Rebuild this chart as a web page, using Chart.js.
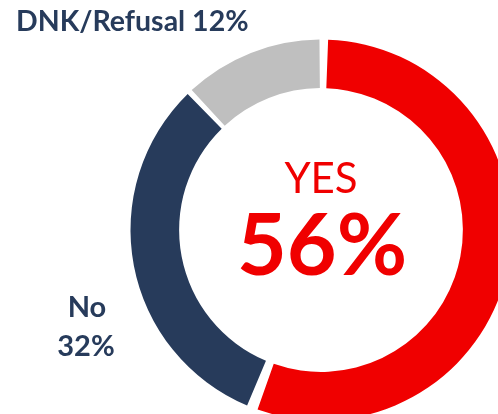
<!DOCTYPE html>
<html>
<head>
<meta charset="utf-8">
<script src="https://cdn.jsdelivr.net/npm/chart.js@4/dist/chart.umd.min.js"></script>
<style>
  html, body { margin: 0; padding: 0; background: #fff; overflow: hidden; }
  #wrap { position: relative; width: 498px; height: 414px; overflow: hidden; }
  #poll { position: absolute; left: 0; top: 0; }
</style>
</head>
<body>
<div id="wrap"><canvas id="poll" width="660" height="480"></canvas></div>
<script>
(function () {
    'use strict';

    // ── Data ─────────────────────────────────────────────────────────
    var answers = ['YES', 'No', 'DNK/Refusal'];
    var shares  = [56, 32, 12];
    var colours = ['#F00000', '#273B5B', '#BFBFBF'];

    var NAVY = '#273B5B';
    var RED  = '#F00000';
    var FONT = 'Lato, "Open Sans", sans-serif';

    // ── Text labels drawn onto the chart canvas ──────────────────────
    var labelsPlugin = {
        id: 'pollLabels',
        afterDraw: function (chart) {
            var ctx = chart.ctx;
            var arc = chart.getDatasetMeta(0).data[0];
            var cx = arc.x, cy = arc.y;

            ctx.save();
            ctx.textBaseline = 'alphabetic';

            // outer labels
            ctx.fillStyle = NAVY;
            ctx.textAlign = 'left';
            ctx.font = 'bold 28.5px ' + FONT;
            ctx.fillText(answers[2] + ' ' + shares[2] + '%', 16, 31);

            ctx.textAlign = 'center';
            ctx.font = 'bold 29px ' + FONT;
            ctx.fillText(answers[1], 87, 317);
            ctx.fillText(shares[1] + '%', 86, 356);

            // centre label
            ctx.fillStyle = RED;
            ctx.font = '42px ' + FONT;
            ctx.fillText(answers[0], cx, cy - 37);
            ctx.font = 'bold 86px ' + FONT;
            ctx.fillText(shares[0] + '%', cx + 1, cy + 45);
            ctx.restore();
        }
    };

    // ── Chart ────────────────────────────────────────────────────────
    var gap = 7;
    var radius = 187;
    var centre = { x: 321, y: 230 };
    var W = 660, H = 480;
    var half = radius + gap / 2;

    new Chart(document.getElementById('poll'), {
        type: 'doughnut',
        data: {
            labels: answers,
            datasets: [{
                data: shares,
                backgroundColor: colours,
                borderWidth: 0,
                spacing: gap
            }]
        },
        options: {
            responsive: false,
            animation: false,
            cutout: '74%',
            layout: {
                padding: {
                    left: centre.x - half,
                    top: centre.y - half,
                    right: W - centre.x - half,
                    bottom: H - centre.y - half
                }
            },
            plugins: {
                legend: { display: false },
                tooltip: { enabled: false }
            }
        },
        plugins: [labelsPlugin]
    });
})();
</script>
</body>
</html>
